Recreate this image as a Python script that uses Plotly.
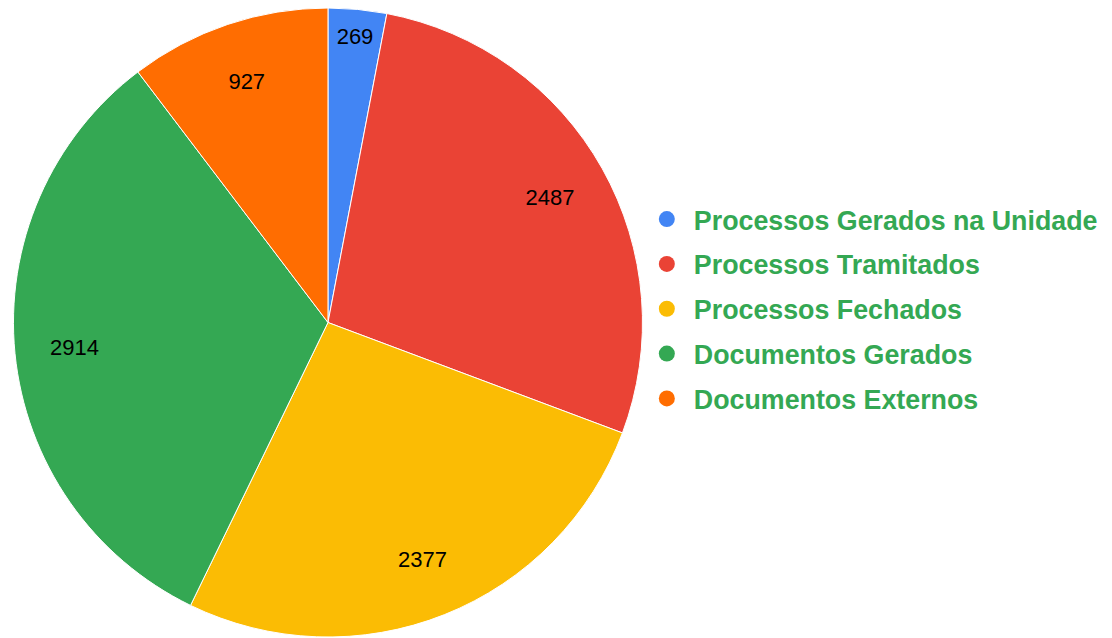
import plotly.graph_objects as go

labels = ["Processos Gerados na Unidade", "Processos Tramitados", "Processos Fechados",
          "Documentos Gerados", "Documentos Externos"]
values = [269, 2487, 2377, 2914, 927]
colors = ["#4285F4", "#EA4335", "#FBBC04", "#34A853", "#FF6D01"]

dom = dict(x=[0.0045, 0.571], y=[0.0141, 1.0])

fig = go.Figure()
fig.add_trace(go.Pie(
    labels=labels, values=values, sort=False, direction="clockwise", rotation=0,
    marker=dict(colors=colors, line=dict(color="white", width=1)),
    textinfo="none", showlegend=False, hoverinfo="label+value",
    domain=dom,
))
# transparent ring used only to place the value labels at ~0.8 of the radius
fig.add_trace(go.Pie(
    labels=labels, values=values, sort=False, direction="clockwise", rotation=0,
    hole=0.62,
    marker=dict(colors=["rgba(0,0,0,0)"] * len(values), line=dict(width=0)),
    textinfo="value", textposition="inside", insidetextorientation="horizontal",
    textfont=dict(family="Liberation Sans, Arial", size=22, color="black"),
    showlegend=False, hoverinfo="skip",
    domain=dom,
))
for i, (lab, col) in enumerate(zip(labels, colors)):
    fig.add_trace(go.Scatter(x=[None], y=[None], mode="markers", name=lab,
                             legendgroup=f"g{i}",
                             marker=dict(symbol="circle", size=20, color=col)))

fig.update_layout(
    width=1112, height=638, margin=dict(l=0, r=0, t=0, b=0),
    paper_bgcolor="white", plot_bgcolor="white",
    xaxis=dict(visible=False), yaxis=dict(visible=False),
    legend=dict(x=0.5682, y=0.528, xanchor="left", yanchor="middle",
                font=dict(family="Liberation Sans, Arial", size=26.8, color="#34A853",
                          weight="bold"),
                itemsizing="trace", itemwidth=44, tracegroupgap=7,
                bgcolor="rgba(0,0,0,0)"),
)
fig.write_html("out.html")
